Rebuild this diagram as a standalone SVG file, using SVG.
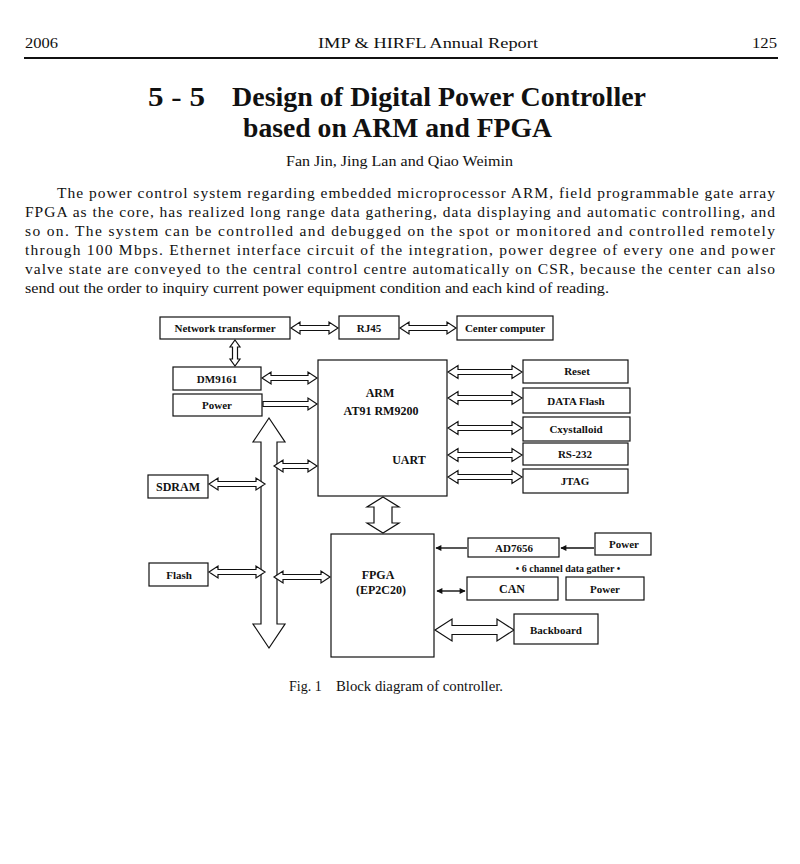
<svg xmlns="http://www.w3.org/2000/svg" width="800" height="864" viewBox="0 0 800 864">
<style>
.serif{font-family:"Liberation Serif","Times New Roman",serif;fill:#111}
.hdr{font-size:15px}
.title{font-size:27px;font-weight:bold}
.body{font-size:15.5px}
.box{fill:#fff;stroke:#111;stroke-width:1.2}
.lbl{font-family:"Liberation Serif","Times New Roman",serif;font-size:11px;font-weight:bold;fill:#111;text-anchor:middle}
.big{font-size:12px}
.arr{fill:#fff;stroke:#111;stroke-width:1.2;stroke-linejoin:miter}
.thin{stroke:#111;stroke-width:1.4;fill:none}
</style>
<defs>
<marker id="ah" viewBox="0 0 10 10" refX="9" refY="5" markerWidth="7" markerHeight="6" orient="auto-start-reverse" markerUnits="userSpaceOnUse">
<path d="M0,0 L10,5 L0,10 z" fill="#111"/>
</marker>
</defs>
<rect width="800" height="864" fill="#fff"/>

<!-- page header -->
<text class="serif hdr" x="25" y="48" textLength="33" lengthAdjust="spacingAndGlyphs">2006</text>
<text class="serif hdr" x="318" y="48" textLength="220" lengthAdjust="spacingAndGlyphs">IMP &amp; HIRFL Annual Report</text>
<text class="serif hdr" x="752" y="48" textLength="25" lengthAdjust="spacingAndGlyphs">125</text>
<line x1="24" y1="58" x2="778" y2="58" stroke="#111" stroke-width="2"/>

<!-- title -->
<text class="serif title" x="148" y="106" textLength="57" lengthAdjust="spacingAndGlyphs">5 - 5</text>
<text class="serif title" x="232" y="106" textLength="414" lengthAdjust="spacingAndGlyphs">Design of Digital Power Controller</text>
<text class="serif title" x="243" y="137" textLength="309" lengthAdjust="spacingAndGlyphs">based on ARM and FPGA</text>
<text class="serif" style="font-size:15px" x="286" y="166" textLength="227" lengthAdjust="spacingAndGlyphs">Fan Jin, Jing Lan and Qiao Weimin</text>

<!-- abstract -->
<text class="serif body" x="57" y="198" textLength="718" lengthAdjust="spacing">The power control system regarding embedded microprocessor ARM, field programmable gate array</text>
<text class="serif body" x="25" y="217" textLength="750" lengthAdjust="spacing">FPGA as the core, has realized long range data gathering, data displaying and automatic controlling, and</text>
<text class="serif body" x="25" y="236" textLength="750" lengthAdjust="spacing">so on. The system can be controlled and debugged on the spot or monitored and controlled remotely</text>
<text class="serif body" x="25" y="255" textLength="750" lengthAdjust="spacing">through 100 Mbps. Ethernet interface circuit of the integration, power degree of every one and power</text>
<text class="serif body" x="25" y="274" textLength="750" lengthAdjust="spacing">valve state are conveyed to the central control centre automatically on CSR, because the center can also</text>
<text class="serif body" x="25" y="293" textLength="584" lengthAdjust="spacingAndGlyphs">send out the order to inquiry current power equipment condition and each kind of reading.</text>

<!-- connectors -->
<g id="connectors">
<polygon class="arr" points="269,418 285,442 277,442 277,624 285,624 269,648 253,624 261,624 261,442 253,442"/>
<polygon class="arr" points="291,328 300,322 300,325.5 329,325.5 329,322 338,328 329,334 329,330.5 300,330.5 300,334"/>
<polygon class="arr" points="400,328 409,322 409,325.5 447,325.5 447,322 456,328 447,334 447,330.5 409,330.5 409,334"/>
<polygon class="arr" points="235,340 240,347 237.5,347 237.5,359 240,359 235,366 230,359 232.5,359 232.5,347 230,347"/>
<polygon class="arr" points="262,378 271,372 271,375.5 308,375.5 308,372 317,378 308,384 308,380.5 271,380.5 271,384"/>
<polygon class="arr" points="263,401.5 308,401.5 308,398 317,404 308,410 308,406.5 263,406.5"/>
<polygon class="arr" points="274,466 283,460 283,463.5 308,463.5 308,460 317,466 308,472 308,468.5 283,468.5 283,472"/>
<polygon class="arr" points="209,484 218,478 218,481.5 256,481.5 256,478 265,484 256,490 256,486.5 218,486.5 218,490"/>
<polygon class="arr" points="209,572 218,566 218,569.5 256,569.5 256,566 265,572 256,578 256,574.5 218,574.5 218,578"/>
<polygon class="arr" points="274,577 283,571 283,574.5 321,574.5 321,571 330,577 321,583 321,579.5 283,579.5 283,583"/>
<polygon class="arr" points="383,497 399,507 392,507 392,523 399,523 383,533 367,523 374,523 374,507 367,507"/>
<polygon class="arr" points="448,372 458,365.5 458,369.5 512,369.5 512,365.5 522,372 512,378.5 512,374.5 458,374.5 458,378.5"/>
<polygon class="arr" points="448,398 458,391.5 458,395.5 512,395.5 512,391.5 522,398 512,404.5 512,400.5 458,400.5 458,404.5"/>
<polygon class="arr" points="448,428 458,421.5 458,425.5 512,425.5 512,421.5 522,428 512,434.5 512,430.5 458,430.5 458,434.5"/>
<polygon class="arr" points="448,455 458,448.5 458,452.5 512,452.5 512,448.5 522,455 512,461.5 512,457.5 458,457.5 458,461.5"/>
<polygon class="arr" points="448,477 458,470.5 458,474.5 512,474.5 512,470.5 522,477 512,483.5 512,479.5 458,479.5 458,483.5"/>
<line class="thin" x1="467" y1="548" x2="436" y2="548" marker-end="url(#ah)"/>
<line class="thin" x1="594" y1="548" x2="561" y2="548" marker-end="url(#ah)"/>
<line class="thin" x1="437" y1="591" x2="465" y2="591" marker-start="url(#ah)" marker-end="url(#ah)"/>
<polygon class="arr" points="435,630 452,619 452,625.5 497,625.5 497,619 514,630 497,641 497,634.5 452,634.5 452,641"/>
</g>

<!-- nodes -->
<g id="network-transformer"><rect class="box" x="160" y="317" width="130" height="22"/><text class="lbl" x="225" y="332">Network transformer</text></g>
<g id="rj45"><rect class="box" x="339" y="316" width="60" height="23"/><text class="lbl" x="369" y="332">RJ45</text></g>
<g id="center-computer"><rect class="box" x="457" y="316" width="96" height="24"/><text class="lbl" x="505" y="332">Center computer</text></g>
<g id="dm9161"><rect class="box" x="173" y="367" width="88" height="23"/><text class="lbl" x="217" y="383">DM9161</text></g>
<g id="power-arm"><rect class="box" x="173" y="394" width="89" height="22"/><text class="lbl" x="217" y="409">Power</text></g>
<g id="arm"><rect class="box" x="318" y="360" width="129" height="136"/>
<text class="lbl big" x="380" y="397">ARM</text>
<text class="lbl big" x="381" y="415">AT91 RM9200</text>
<text class="lbl big" x="409" y="464">UART</text></g>
<g id="sdram"><rect class="box" x="148" y="475" width="60" height="23"/><text class="lbl big" x="178" y="491">SDRAM</text></g>
<g id="flash"><rect class="box" x="149" y="563" width="59" height="23"/><text class="lbl" x="179" y="579">Flash</text></g>
<g id="fpga"><rect class="box" x="331" y="534" width="103" height="123"/>
<text class="lbl big" x="378" y="579">FPGA</text>
<text class="lbl big" x="381" y="594">(EP2C20)</text></g>
<g id="reset"><rect class="box" x="523" y="360" width="105" height="23"/><text class="lbl" x="577" y="375">Reset</text></g>
<g id="data-flash"><rect class="box" x="523" y="388" width="107" height="25"/><text class="lbl" x="576" y="405">DATA Flash</text></g>
<g id="cxystalloid"><rect class="box" x="523" y="417" width="107" height="24"/><text class="lbl" x="576" y="433">Cxystalloid</text></g>
<g id="rs232"><rect class="box" x="523" y="443" width="105" height="22"/><text class="lbl" x="575" y="458">RS-232</text></g>
<g id="jtag"><rect class="box" x="523" y="469" width="105" height="24"/><text class="lbl" x="575" y="485">JTAG</text></g>
<g id="ad7656"><rect class="box" x="468" y="538" width="91" height="19"/><text class="lbl" x="514" y="552">AD7656</text></g>
<g id="power-ad"><rect class="box" x="595" y="533" width="56" height="22"/><text class="lbl" x="624" y="548">Power</text></g>
<text class="lbl" style="font-size:10px" x="568" y="572">• 6 channel data gather •</text>
<g id="can"><rect class="box" x="467" y="577" width="91" height="23"/><text class="lbl big" x="512" y="593">CAN</text></g>
<g id="power-can"><rect class="box" x="566" y="577" width="78" height="23"/><text class="lbl" x="605" y="593">Power</text></g>
<g id="backboard"><rect class="box" x="514" y="614" width="84" height="30"/><text class="lbl" x="556" y="634">Backboard</text></g>

<!-- caption -->
<text class="serif" style="font-size:14px" x="289" y="691">Fig. 1</text>
<text class="serif" style="font-size:14px" x="336" y="691" textLength="167" lengthAdjust="spacingAndGlyphs">Block diagram of controller.</text>
</svg>
